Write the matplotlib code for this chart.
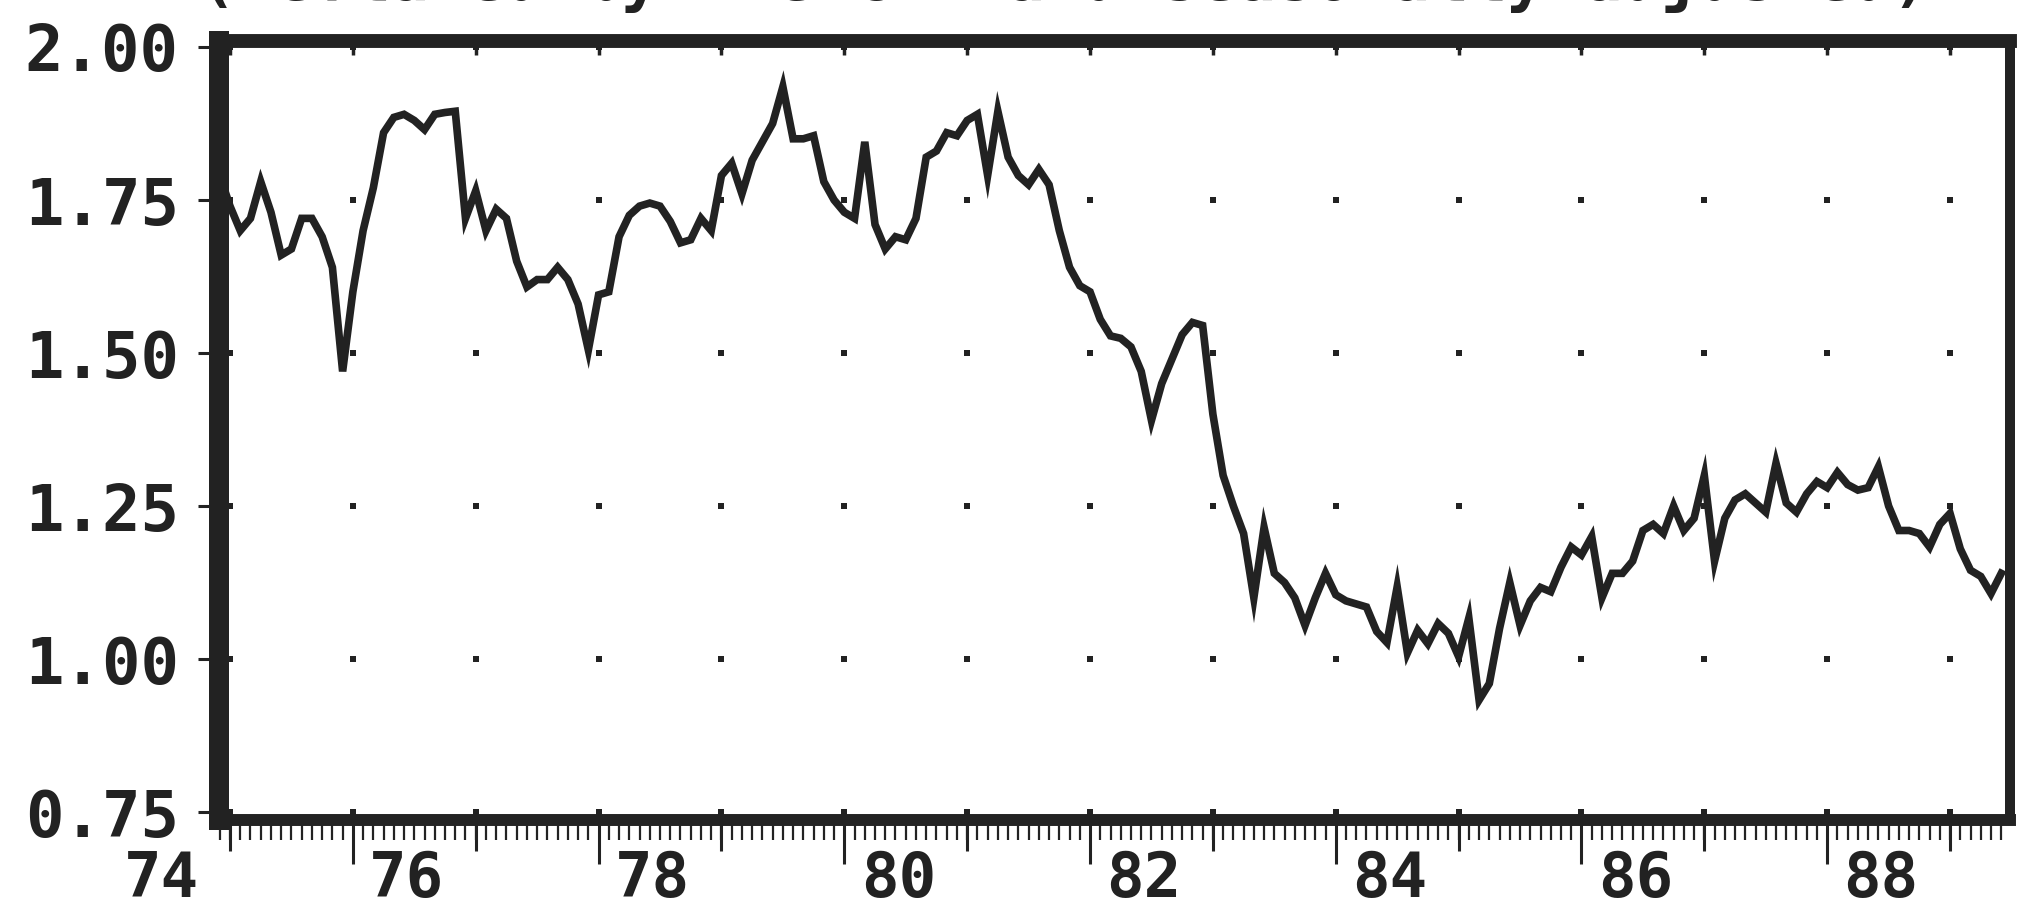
import numpy as np
import matplotlib
matplotlib.use("Agg")
import matplotlib.pyplot as plt
from matplotlib.ticker import MultipleLocator, NullLocator

plt.rcParams['font.family'] = ['DejaVu Sans Mono', 'DejaVu Sans']
plt.rcParams['font.weight'] = 'bold'

INK = '#222222'

# monthly series, Dec 1974 .. Jun 1989
start_year, start_month = 1974, 12
values = [
    1.79,
    1.74, 1.70, 1.72, 1.78, 1.73, 1.66, 1.67, 1.72, 1.72, 1.69, 1.64, 1.47,      # 1975
    1.60, 1.70, 1.77, 1.86, 1.885, 1.89, 1.88, 1.865, 1.89, 1.893, 1.895, 1.72,  # 1976
    1.765, 1.70, 1.735, 1.72, 1.65, 1.608, 1.62, 1.62, 1.64, 1.62, 1.58, 1.505,  # 1977
    1.595, 1.60, 1.69, 1.725, 1.74, 1.745, 1.74, 1.715, 1.68, 1.685, 1.72, 1.70, # 1978
    1.79, 1.81, 1.76, 1.815, 1.845, 1.875, 1.935, 1.85, 1.85, 1.855, 1.78, 1.75, # 1979
    1.73, 1.72, 1.845, 1.71, 1.67, 1.69, 1.685, 1.72, 1.82, 1.83, 1.86, 1.855,   # 1980
    1.88, 1.89, 1.79, 1.895, 1.82, 1.79, 1.775, 1.80, 1.775, 1.70, 1.64, 1.61,   # 1981
    1.60, 1.555, 1.528, 1.524, 1.51, 1.47, 1.39, 1.45, 1.49, 1.53, 1.55, 1.545,  # 1982
    1.40, 1.30, 1.25, 1.205, 1.10, 1.215, 1.14, 1.125, 1.10, 1.055, 1.10, 1.14,  # 1983
    1.105, 1.095, 1.09, 1.085, 1.045, 1.027, 1.118, 1.01, 1.047, 1.025, 1.058, 1.042,  # 1984
    1.004, 1.067, 0.933, 0.96, 1.05, 1.125, 1.055, 1.095, 1.117, 1.11, 1.15, 1.183,   # 1985
    1.17, 1.20, 1.10, 1.14, 1.14, 1.16, 1.21, 1.22, 1.205, 1.25, 1.21, 1.23,     # 1986
    1.30, 1.16, 1.23, 1.26, 1.27, 1.255, 1.24, 1.32, 1.255, 1.24, 1.27, 1.29,    # 1987
    1.28, 1.305, 1.285, 1.276, 1.28, 1.314, 1.25, 1.21, 1.21, 1.205, 1.183, 1.22,  # 1988
    1.238, 1.18, 1.145, 1.135, 1.107, 1.14,                                      # 1989
]

y_levels = [0.75, 1.00, 1.25, 1.50, 1.75, 2.00]
year_ticks = list(range(1975, 1990))
label_years = [1974, 1976, 1978, 1980, 1982, 1984, 1986, 1988]
title = "(Deflated by the CPI and seasonally adjusted)"

x = start_year + (start_month - 1) / 12 + np.arange(len(values)) / 12

fig = plt.figure(figsize=(20.17, 9.09), dpi=100)
ax = fig.add_axes([0.10858, 0.09791, 0.88795, 0.85699])

ax.plot(x, values, color=INK, lw=5.5, zorder=4, solid_joinstyle='miter')

# dotted grid: one dot per year and level
gx, gy = np.meshgrid(year_ticks, y_levels)
ax.scatter(gx.ravel(), gy.ravel(), marker='s', s=14, color=INK,
           linewidths=0, zorder=3, clip_on=False)

# frame
for side, lw in [('left', 14.4), ('top', 10), ('bottom', 8.6), ('right', 7.2)]:
    ax.spines[side].set_linewidth(lw)
    ax.spines[side].set_color(INK)
    ax.spines[side].set_capstyle('projecting')

# y axis
ax.set_yticks(y_levels, labels=[f"{v:.2f}" for v in y_levels])
ax.tick_params(axis='y', direction='out', length=15, width=2.2, pad=14,
               labelsize=46, color=INK, labelcolor=INK)

# x axis: long ticks on even years, monthly minor ticks
ax.set_xticks(label_years[1:], labels=[])
ax.xaxis.set_minor_locator(MultipleLocator(1 / 12))
ax.tick_params(axis='x', which='major', direction='out', length=32, width=2.2, color=INK)
ax.tick_params(axis='x', which='minor', direction='out', length=14.4, width=1.6, color=INK)

odd = ax.secondary_xaxis('bottom')
odd.spines['bottom'].set_visible(False)
odd.set_xticks([yr for yr in year_ticks if yr % 2 == 1], labels=[])
odd.xaxis.set_minor_locator(NullLocator())
odd.tick_params(axis='x', direction='out', length=22, width=2.2, color=INK)

top = ax.secondary_xaxis('top')
top.spines['top'].set_visible(False)
top.set_xticks(year_ticks, labels=[])
top.xaxis.set_minor_locator(NullLocator())
top.tick_params(axis='x', direction='in', length=10, width=2.5, color=INK)

ax.set_xlim(1974.9105, 1989.488)
ax.set_ylim(0.737, 2.0098)

for yr in label_years:
    ax.text(yr + 0.44, -0.099, f"{yr % 100:02d}", transform=ax.get_xaxis_transform(),
            ha='center', va='baseline', fontsize=45, color=INK, clip_on=False)

fig.text(0.5275, 1.0, title, ha='center', va='baseline', fontsize=46, color=INK)

fig.savefig("out.png", dpi=100, facecolor='white')
